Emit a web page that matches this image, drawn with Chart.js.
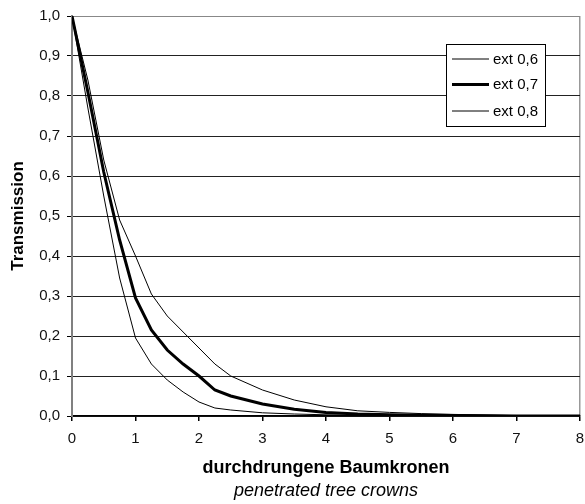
<!DOCTYPE html>
<html>
<head>
<meta charset="utf-8">
<script src="https://cdn.jsdelivr.net/npm/chart.js@4.4.1/dist/chart.umd.min.js"></script>
<style>
  html, body { margin: 0; padding: 0; background: #fff; }
  #wrap { width: 585px; height: 504px; }
</style>
</head>
<body>
<div id="wrap"><canvas id="chart" width="585" height="504"></canvas></div>
<script>
// crowns penetrated (x) and transmission
const crowns = [0, 0.25, 0.5, 0.75, 1, 1.25, 1.5, 1.75, 2, 2.25, 2.5, 3, 3.5, 4, 4.5, 5, 5.5, 6, 7, 8];
const ext06 = [1, 0.84, 0.64, 0.49, 0.40, 0.305, 0.25, 0.21, 0.17, 0.13, 0.10, 0.065, 0.04, 0.023, 0.013, 0.009, 0.006, 0.004, 0.001, 0];
const ext07 = [1, 0.81, 0.61, 0.44, 0.295, 0.215, 0.165, 0.13, 0.10, 0.065, 0.05, 0.03, 0.017, 0.009, 0.005, 0.003, 0.002, 0.001, 0, 0];
const ext08 = [1, 0.77, 0.55, 0.345, 0.195, 0.13, 0.09, 0.06, 0.035, 0.02, 0.015, 0.008, 0.005, 0.003, 0.002, 0.001, 0, 0, 0, 0];
const seriesNames = ['ext 0,6', 'ext 0,7', 'ext 0,8'];
const xTicks = [0, 1, 2, 3, 4, 5, 6, 7, 8];
const yTicks = [0, 0.1, 0.2, 0.3, 0.4, 0.5, 0.6, 0.7, 0.8, 0.9, 1.0];

const FONT = "'Liberation Sans', Arial, sans-serif";

const toPoints = ys => crowns.map((x, i) => ({ x: x, y: ys[i] }));

// legend box inside plot + italic english subtitle
const extras = {
  id: 'extras',
  afterDraw(chart) {
    const ctx = chart.ctx;
    const area = chart.chartArea;
    ctx.save();
    // legend
    ctx.fillStyle = '#fff';
    ctx.fillRect(446.5, 44.5, 99, 82);
    ctx.strokeStyle = '#000';
    ctx.lineWidth = 1;
    ctx.strokeRect(446.5, 44.5, 99, 82);
    const rows = [59, 84.5, 111];
    chart.data.datasets.forEach((ds, i) => {
      ctx.beginPath();
      ctx.strokeStyle = ds.borderColor;
      ctx.lineWidth = ds.borderWidth;
      ctx.moveTo(452, rows[i]);
      ctx.lineTo(489, rows[i]);
      ctx.stroke();
      ctx.fillStyle = '#000';
      ctx.font = '15px ' + FONT;
      ctx.textBaseline = 'middle';
      ctx.textAlign = 'left';
      ctx.fillText(ds.label, 493, rows[i] + 0.5);
    });
    // subtitle
    ctx.font = 'italic 18px ' + FONT;
    ctx.textAlign = 'center';
    ctx.textBaseline = 'middle';
    ctx.fillStyle = '#000';
    ctx.fillText('penetrated tree crowns', (area.left + area.right) / 2, 491);
    ctx.restore();
  }
};

new Chart(document.getElementById('chart'), {
  type: 'line',
  data: {
    datasets: [
      { label: seriesNames[0], data: toPoints(ext06), borderColor: '#000', borderWidth: 1 },
      { label: seriesNames[1], data: toPoints(ext07), borderColor: '#000', borderWidth: 3 },
      { label: seriesNames[2], data: toPoints(ext08), borderColor: '#000', borderWidth: 1 }
    ]
  },
  options: {
    responsive: false,
    animation: false,
    layout: { padding: { top: 16, right: 5, left: 0, bottom: 0 } },
    elements: { point: { radius: 0 }, line: { tension: 0 } },
    plugins: { legend: { display: false }, tooltip: { enabled: false } },
    scales: {
      x: {
        type: 'linear',
        min: 0,
        max: 8,
        afterBuildTicks: s => { s.ticks = xTicks.map(v => ({ value: v })); },
        afterFit: s => { s.height = 88; s.paddingRight = 0; s.paddingLeft = 0; },
        ticks: { color: '#111', font: { family: FONT, size: 15 }, padding: 9, maxRotation: 0 },
        grid: {
          color: c => (c.tick && c.tick.value === 8 ? '#999' : 'rgba(0,0,0,0)'),
          lineWidth: 1.5,
          tickColor: '#000',
          tickLength: 5
        },
        border: { color: '#000', width: 1.5 },
        title: {
          display: true,
          text: 'durchdrungene Baumkronen',
          color: '#000',
          font: { family: FONT, size: 18, weight: 'bold' },
          padding: { top: 0, bottom: 25 }
        }
      },
      y: {
        min: 0,
        max: 1,
        afterBuildTicks: s => { s.ticks = yTicks.map(v => ({ value: v })); },
        afterFit: s => { s.width = 72; s.paddingTop = 0; s.paddingBottom = 0; },
        ticks: {
          color: '#111',
          font: { family: FONT, size: 15 },
          padding: 7,
          callback: v => v.toFixed(1).replace('.', ',')
        },
        grid: {
          color: c => (c.tick && c.tick.value === 1 ? '#888' : '#222'),
          lineWidth: 1,
          tickColor: '#000',
          tickLength: 5
        },
        border: { color: '#808080', width: 2 },
        title: {
          display: true,
          text: 'Transmission',
          color: '#000',
          font: { family: FONT, size: 17, weight: 'bold' },
          padding: { top: 8, bottom: 0 }
        }
      }
    }
  },
  plugins: [extras]
});
</script>
</body>
</html>
